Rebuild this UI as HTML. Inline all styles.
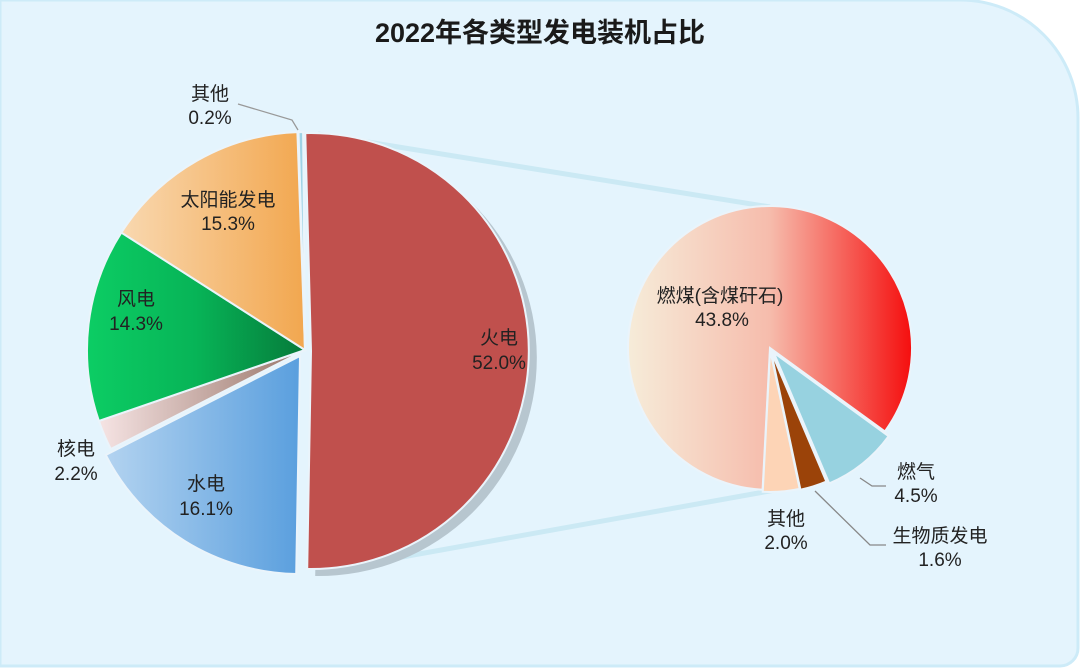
<!DOCTYPE html>
<html><head><meta charset="utf-8"><style>
html,body{margin:0;padding:0;background:#fff;}
svg{display:block;font-family:"Liberation Sans","Noto Sans CJK SC",sans-serif;}
</style></head><body>
<svg id="s" width="1080" height="668" viewBox="0 0 1080 668">
<defs>
<linearGradient id="gWater" x1="0" x2="1" y1="0" y2="0"><stop offset="0" stop-color="#b3d3f0"/><stop offset="1" stop-color="#5a9fde"/></linearGradient>
<linearGradient id="gNuc" x1="0" x2="1" y1="0" y2="0"><stop offset="0" stop-color="#f6e4e4"/><stop offset="1" stop-color="#987468"/></linearGradient>
<linearGradient id="gWind" x1="0" x2="1" y1="0" y2="0"><stop offset="0" stop-color="#0ccd64"/><stop offset="0.5" stop-color="#07b457"/><stop offset="1" stop-color="#067a3a"/></linearGradient>
<linearGradient id="gSolar" x1="0" x2="1" y1="0" y2="0"><stop offset="0" stop-color="#f9d8b0"/><stop offset="1" stop-color="#f2a74f"/></linearGradient>
<linearGradient id="gCoal" x1="628" x2="912" y1="0" y2="0" gradientUnits="userSpaceOnUse"><stop offset="0" stop-color="#f6ecd9"/><stop offset="0.5" stop-color="#f6bcac"/><stop offset="1" stop-color="#f50e0e"/></linearGradient>
</defs>
<path d="M0,0 H960 A118,118 0 0 1 1078,118 V648 A18,18 0 0 1 1060,666 H0 Z" fill="#e4f4fd" stroke="#cdebf8" stroke-width="3"/>
<line x1="318" y1="134" x2="770" y2="207" stroke="#cbe9f4" stroke-width="5"/>
<line x1="330" y1="570" x2="775" y2="490" stroke="#cbe9f4" stroke-width="5"/>
<g id="pies"></g>
<polyline points="238,104 292,120 298,130" fill="none" stroke="#999" stroke-width="1.3"/>
<polyline points="860,478 872,486 886,486" fill="none" stroke="#888" stroke-width="1.3"/>
<polyline points="815,491 870,545 886,545" fill="none" stroke="#888" stroke-width="1.3"/>
<g fill="#222" font-size="19" text-anchor="middle">
<text x="540" y="42" font-size="27" font-weight="bold" fill="#1a1a1a">2022年各类型发电装机占比</text>
<text x="210" y="100">其他</text><text x="210" y="124">0.2%</text>
<text x="228" y="206">太阳能发电</text><text x="228" y="230">15.3%</text>
<text x="136" y="305">风电</text><text x="136" y="330">14.3%</text>
<text x="76" y="455">核电</text><text x="76" y="480">2.2%</text>
<text x="206" y="490">水电</text><text x="206" y="515">16.1%</text>
<text x="499" y="344">火电</text><text x="499" y="369">52.0%</text>
<text x="720" y="302">燃煤(含煤矸石)</text><text x="722" y="326">43.8%</text>
<text x="916" y="478">燃气</text><text x="916" y="502">4.5%</text>
<text x="786" y="525">其他</text><text x="786" y="549">2.0%</text>
<text x="940" y="542">生物质发电</text><text x="940" y="566">1.6%</text>
</g>
</svg>
<script>
function pt(cx,cy,r,a){a=a*Math.PI/180;return [cx+r*Math.sin(a),cy-r*Math.cos(a)];}
function sl(cx,cy,r,a0,a1){var p=pt(cx,cy,r,a0),q=pt(cx,cy,r,a1);var l=(a1-a0)>180?1:0;
return "M"+cx+","+cy+" L"+p[0].toFixed(2)+","+p[1].toFixed(2)+" A"+r+","+r+" 0 "+l+" 1 "+q[0].toFixed(2)+","+q[1].toFixed(2)+" Z";}
var g=document.getElementById("pies"),h="";
function add(cx,cy,r,a0,a1,fill,ex,extra){var m=(a0+a1)/2,o=pt(0,0,ex||0,m);
h+='<path d="'+sl(cx+o[0],cy+o[1],r,a0,a1)+'" fill="'+fill+'" '+(extra||'stroke="#eaf4fb" stroke-width="2"')+'/>';}
// left pie
add(319,358,218,-1.5,181,"#b7c6cf",0,'stroke="none"');
add(311,351,218,-1.5,181,"#c0504d",0);
add(300,356,218,181,243,"url(#gWater)",0);
add(305,350,218,243,251,"url(#gNuc)",0);
add(305,350,218,251,302.6,"url(#gWind)",0);
add(305,350,218,302.6,358,"url(#gSolar)",0);
add(305,350,218,358.3,359.5,"#9fd3e6",0);
// right pie
add(775,352,142,126,486,"#d6eeea",0,'stroke="none"');
add(770,348,142,183,486,"url(#gCoal)",0);
add(770,348,142,126,157,"#97d2e0",6);
add(770,348,142,157,168,"#9b4309",3);
add(770,348,142,168,183,"#fdd4b6",2);
g.innerHTML=h;
</script>
</body></html>
